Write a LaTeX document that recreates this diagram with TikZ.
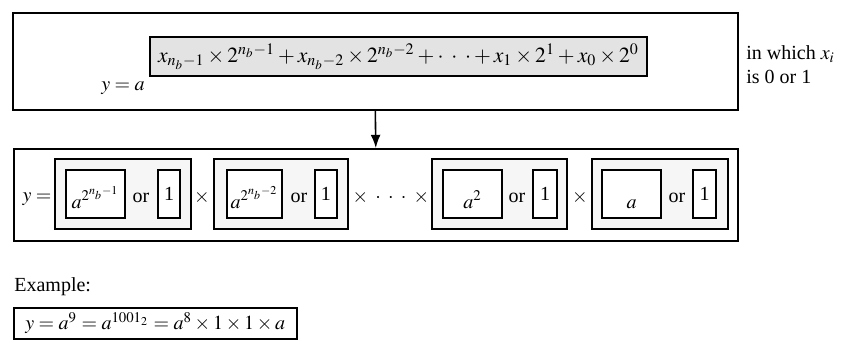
\documentclass[tikz,border=0pt]{standalone}
\usepackage{amsmath}
\usepackage{mathptmx}
\usepackage{fontspec}
\setmainfont{Liberation Serif}
\usetikzlibrary{arrows.meta,positioning}

\tikzset{
  bigbox/.style={draw, line width=0.8pt, inner sep=0pt},
  expbox/.style={draw, line width=0.8pt, fill=gray!22, inner sep=1pt},
  grpbox/.style={draw, line width=0.8pt, fill=gray!7, minimum height=35pt},
  pwrbox/.style={draw, line width=0.7pt, fill=white, minimum height=24pt,
                 inner sep=1pt, text height=14pt, text depth=0pt},
  onebox/.style={draw, line width=0.7pt, fill=white, minimum height=24pt, inner sep=1pt},
}

\begin{document}
\begin{tikzpicture}[x=0.5pt, y=-0.5pt, >=Latex]
    \useasboundingbox (0,0) rectangle (843,339);

    % top box: y = a to the sum
    \node[bigbox, minimum width=362.5pt, minimum height=48.5pt, anchor=north west] (top) at (12,12) {};
    \node[expbox, minimum width=248.5pt, minimum height=19.5pt, font=\fontsize{10.8}{13}\selectfont] (expo) at (398.5,56.5)
        {$x_{n_b-1}\times 2^{n_b-1}+x_{n_b-2}\times 2^{n_b-2}+\cdot\;\cdot\;\cdot+x_1\times 2^1+x_0\times 2^0$};
    \node (ya) at (123,88) {$y=a$};
    \node[anchor=west, align=left, inner sep=0pt] (note) at (746,64.5) {in which $x_i$\\is 0 or 1};

    % product row
    \node[bigbox, minimum width=362pt, minimum height=46pt, anchor=north west] (row) at (13,148) {};
    \draw[->, line width=0.8pt] (top.south) -- (row.north);
    \node (yeq) at (37,199) {$y=$};

    % group 1
    \node[grpbox, minimum width=68pt] (g1) at (123,194) {};
    \node[pwrbox, minimum width=29.5pt] (p1) at (95.5,194) {$a^{2^{n_b-1}}$};
    \node (or1) at (141,198) {or};
    \node[onebox, minimum width=11pt] (o1) at (169,194) {1};
    \node (t1) at (202,197) {$\times$};

    % group 2
    \node[grpbox, minimum width=67pt] (g2) at (281,194) {};
    \node[pwrbox, minimum width=27.5pt] (p2) at (254.5,194) {$a^{2^{n_b-2}}$};
    \node (or2) at (299,198) {or};
    \node[onebox, minimum width=11pt] (o2) at (326,194) {1};
    \node (t2) at (391,197) {$\times\;\cdot\;\cdot\;\cdot\;\times$};

    % group 3
    \node[grpbox, minimum width=67.5pt] (g3) at (499.5,194) {};
    \node[pwrbox, minimum width=29.5pt] (p3) at (472.5,194) {$a^2$};
    \node (or3) at (517,198) {or};
    \node[onebox, minimum width=12pt] (o3) at (545,194) {1};
    \node (t3) at (580,197) {$\times$};

    % group 4
    \node[grpbox, minimum width=68pt] (g4) at (660,194) {};
    \node[pwrbox, minimum width=29.5pt] (p4) at (631.5,194) {$a$};
    \node (or4) at (677,198) {or};
    \node[onebox, minimum width=11.5pt] (o4) at (704.5,194) {1};

    % example
    \node[anchor=west, inner sep=0pt] (exlab) at (14,287) {Example:};
    \node[bigbox, minimum width=141.5pt, minimum height=15.5pt, anchor=north west] (ex) at (13,307) {};
    \node (exeq) at (ex.center) {$y=a^9=a^{1001_2}=a^8\times1\times1\times a$};
\end{tikzpicture}
\end{document}
